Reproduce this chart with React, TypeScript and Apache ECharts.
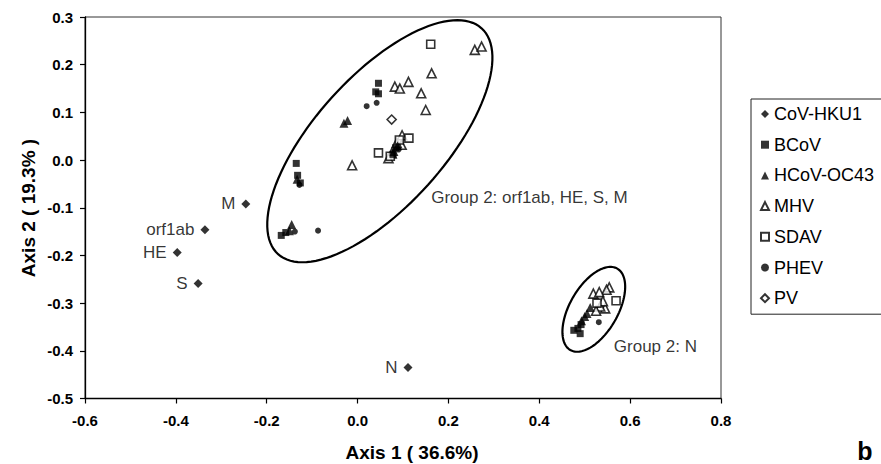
import { useEffect, useRef } from "react";
import * as echarts from "echarts";

const FONT = "'Liberation Sans', Arial, Helvetica, sans-serif";

// Axis ranges / ticks
const xRange = [-0.6, 0.8];
const xStep = 0.2;
const yRange = [-0.5, 0.3];
const yStep = 0.1;

// CoV-HKU1 genes (filled diamonds, labelled)
const hku1Genes = ["orf1ab", "HE", "S", "M", "N"];
const hku1Points: number[][] = [
  [-0.336, -0.146],
  [-0.397, -0.194],
  [-0.351, -0.259],
  [-0.246, -0.092],
  [0.111, -0.435],
];

const bcovPoints: number[][] = [
  [0.046, 0.161], [0.04, 0.143], [0.046, 0.139],
  [-0.135, -0.007], [-0.132, -0.032], [-0.126, -0.048],
  [-0.168, -0.158], [-0.158, -0.152],
  [0.084, 0.026], [0.078, 0.012],
  [0.485, -0.353], [0.476, -0.357], [0.49, -0.364], [0.492, -0.345],
];

const oc43Points: number[][] = [
  [-0.03, 0.077], [-0.022, 0.083],
  [-0.133, -0.04], [-0.145, -0.135], [-0.15, -0.148],
  [0.088, 0.03], [0.08, 0.018],
  [0.512, -0.309], [0.5, -0.328], [0.505, -0.322], [0.493, -0.337],
];

const mhvPoints: number[][] = [
  [0.258, 0.231], [0.273, 0.238], [0.163, 0.182],
  [0.082, 0.154], [0.093, 0.15], [0.112, 0.164],
  [0.14, 0.14], [0.15, 0.105], [-0.012, -0.011],
  [0.098, 0.052], [0.097, 0.032], [0.086, 0.036], [0.075, 0.014], [0.068, 0.004],
  [0.554, -0.267], [0.548, -0.272], [0.519, -0.28], [0.532, -0.277],
  [0.545, -0.311], [0.534, -0.307], [0.525, -0.316], [0.54, -0.296],
];

const sdavPoints: number[][] = [
  [0.161, 0.243], [0.113, 0.046], [0.046, 0.015], [0.092, 0.042], [0.072, 0.008],
  [0.569, -0.295], [0.527, -0.3],
];

const phevPoints: number[][] = [
  [0.042, 0.12], [0.02, 0.113], [-0.087, -0.148], [-0.128, -0.052],
  [-0.138, -0.15], [0.531, -0.34], [0.09, 0.022],
];

const pvPoints: number[][] = [[0.075, 0.085]];

// Group annotations
const groupLabels = ["Group 2: orf1ab, HE, S, M", "Group 2: N"];
const groupLabelAnchors: number[][] = [
  [0.162, -0.078],
  [0.564, -0.391],
];
const ellipseCenters: number[][] = [
  [0.049, 0.0395],
  [0.52, -0.313],
];
// ellipse shape in pixels: semi-major, semi-minor, tilt (deg)
const ellipseShapes = [
  { a: 152, b: 65, tilt: 48 },
  { a: 47, b: 24, tilt: 60 },
];

const fmt = (v: number) => (Math.abs(v) < 1e-9 ? 0 : v).toFixed(1);

export default function App() {
  const ref = useRef<HTMLDivElement>(null);

  useEffect(() => {
    if (!ref.current) return;
    const chart = echarts.init(ref.current, undefined, { renderer: "svg" });

    const filled = (color = "#000") => ({ color, borderColor: color, borderWidth: 0 });
    const open = { color: "#fff", borderColor: "#000", borderWidth: 1.6 };

    const option: any = {
      animation: false,
      backgroundColor: "#fff",
      textStyle: { fontFamily: FONT },
      grid: {
        left: 85,
        right: 160,
        top: 17,
        bottom: 65.5,
        show: true,
        borderColor: "#333",
        borderWidth: 1,
        backgroundColor: "transparent",
      },
      xAxis: {
        type: "value",
        min: xRange[0],
        max: xRange[1],
        interval: xStep,
        axisLine: { show: true, onZero: false, lineStyle: { color: "#000", width: 1.3 } },
        axisTick: { show: true, inside: false, length: 5, lineStyle: { color: "#000", width: 1.2 } },
        splitLine: { show: false },
        axisLabel: {
          formatter: fmt,
          fontSize: 15,
          fontWeight: "bold",
          color: "#000",
          margin: 14,
          fontFamily: FONT,
        },
      },
      yAxis: {
        type: "value",
        min: yRange[0],
        max: yRange[1],
        interval: yStep,
        axisLine: { show: true, onZero: false, lineStyle: { color: "#000", width: 1.3 } },
        axisTick: { show: true, inside: false, length: 5, lineStyle: { color: "#000", width: 1.2 } },
        splitLine: { show: false },
        axisLabel: {
          formatter: fmt,
          fontSize: 15,
          fontWeight: "bold",
          color: "#000",
          margin: 12,
          fontFamily: FONT,
        },
      },
      legend: {
        orient: "vertical",
        left: 751,
        top: 99,
        padding: [5, 24, 6, 9],
        itemGap: 10.7,
        itemWidth: 8,
        itemHeight: 8,
        borderColor: "#222",
        borderWidth: 1,
        textStyle: { fontSize: 18, lineHeight: 20, color: "#000", fontFamily: FONT },
        data: [
          { name: "CoV-HKU1", icon: "diamond" },
          { name: "BCoV", icon: "rect" },
          { name: "HCoV-OC43", icon: "triangle" },
          { name: "MHV", icon: "triangle" },
          { name: "SDAV", icon: "rect" },
          { name: "PHEV", icon: "circle" },
          { name: "PV", icon: "diamond" },
        ],
      },
      graphic: [
        {
          type: "text",
          x: 412,
          y: 452,
          style: {
            text: "Axis 1 ( 36.6%)",
            font: `bold 19px ${FONT}`,
            fill: "#000",
            textAlign: "center",
            textVerticalAlign: "middle",
          },
        },
        {
          type: "text",
          x: 28,
          y: 208,
          rotation: Math.PI / 2,
          style: {
            text: "Axis 2 ( 19.3% )",
            font: `bold 19px ${FONT}`,
            fill: "#000",
            textAlign: "center",
            textVerticalAlign: "middle",
          },
        },
        {
          type: "text",
          x: 865,
          y: 451,
          style: {
            text: "b",
            font: `bold 25px ${FONT}`,
            fill: "#000",
            textAlign: "center",
            textVerticalAlign: "middle",
          },
        },
      ],
      series: [
        {
          type: "custom",
          name: "groups",
          clip: false,
          silent: true,
          data: ellipseCenters,
          renderItem: (params: any, api: any) => {
            const c = api.coord([api.value(0), api.value(1)]);
            const s = ellipseShapes[params.dataIndex];
            const t = (s.tilt * Math.PI) / 180;
            const pts: number[][] = [];
            for (let i = 0; i < 120; i++) {
              const u = (i / 120) * Math.PI * 2;
              const ex = s.a * Math.cos(u);
              const ey = s.b * Math.sin(u);
              pts.push([c[0] + ex * Math.cos(t) - ey * Math.sin(t), c[1] - (ex * Math.sin(t) + ey * Math.cos(t))]);
            }
            return {
              type: "polygon",
              shape: { points: pts },
              style: { fill: "none", stroke: "#000", lineWidth: 2.2 },
            };
          },
          z: 1,
        },
        {
          type: "scatter",
          name: "groupLabels",
          data: groupLabelAnchors,
          symbolSize: 0,
          silent: true,
          label: {
            show: true,
            position: "right",
            distance: 0,
            formatter: (p: any) => groupLabels[p.dataIndex],
            fontSize: 17,
            color: "#000",
            fontFamily: FONT,
          },
        },
        {
          type: "scatter",
          name: "CoV-HKU1",
          data: hku1Points,
          symbol: "diamond",
          symbolSize: 9,
          itemStyle: filled(),
          label: {
            show: true,
            position: "left",
            distance: 6,
            formatter: (p: any) => hku1Genes[p.dataIndex],
            fontSize: 17,
            color: "#000",
            fontFamily: FONT,
          },
          z: 5,
        },
        { type: "scatter", name: "BCoV", data: bcovPoints, symbol: "rect", symbolSize: 7, itemStyle: filled(), z: 4 },
        { type: "scatter", name: "HCoV-OC43", data: oc43Points, symbol: "triangle", symbolSize: 9, itemStyle: filled(), z: 4 },
        { type: "scatter", name: "MHV", data: mhvPoints, symbol: "triangle", symbolSize: 9, itemStyle: open, z: 3 },
        { type: "scatter", name: "SDAV", data: sdavPoints, symbol: "rect", symbolSize: 8, itemStyle: open, z: 3 },
        { type: "scatter", name: "PHEV", data: phevPoints, symbol: "circle", symbolSize: 6, itemStyle: filled(), z: 4 },
        { type: "scatter", name: "PV", data: pvPoints, symbol: "diamond", symbolSize: 9, itemStyle: open, z: 3 },
      ],
    };

    chart.setOption(option);
    return () => chart.dispose();
  }, []);

  return (
    <div
      ref={ref}
      style={{ position: "absolute", left: 0, top: 0, width: 881, height: 464, background: "#fff" }}
    />
  );
}
